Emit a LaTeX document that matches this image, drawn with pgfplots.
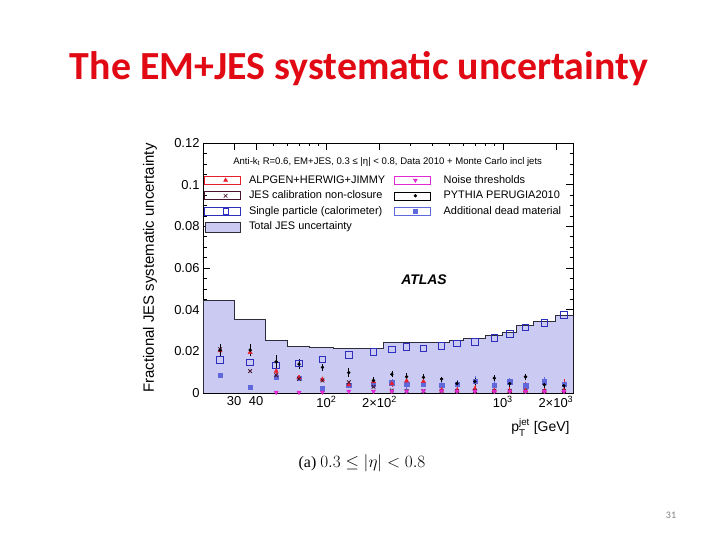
\documentclass[border=0pt]{standalone}
\usepackage{fontspec}
\setmainfont{Liberation Sans}
\newfontfamily\titlefont{Carlito}
\newfontfamily\capfont{Liberation Serif}
\usepackage{amsmath}
\usepackage{pgfplots}
\pgfplotsset{compat=1.18}
\definecolor{titlered}{RGB}{225,10,20}
\definecolor{jesfill}{RGB}{202,202,242}
\definecolor{jesline}{RGB}{45,45,60}
\definecolor{cSingle}{RGB}{45,45,190}
\definecolor{cDead}{RGB}{95,105,220}
\definecolor{cAlp}{RGB}{230,30,45}
\definecolor{cNoise}{RGB}{225,40,210}
\definecolor{cClos}{RGB}{70,20,45}

% legend image: one mark at 21bp inside a fixed 36bp wide cell
\pgfplotsset{
  mklegend/.style={legend image code/.code={%
    \path (0bp,-4bp) rectangle (36bp,4bp);
    \draw[mark repeat=2,mark phase=2,##1] plot coordinates {(0bp,0bp) (21bp,0bp) (36bp,0bp)};}},
}

\begin{document}
\begin{tikzpicture}
\path[fill=white,use as bounding box] (0bp,0bp) rectangle (720bp,540bp);

\node[font=\titlefont\bfseries\fontsize{40}{44}\selectfont,text=titlered,anchor=base]
  at (359bp,460bp) {The EM+JES systematic uncertainty};

\begin{axis}[
    at={(203bp,147bp)}, anchor=south west,
    width=370bp, height=250bp, scale only axis,
    xmode=log, xmin=20, xmax=2500,
    ymin=0, ymax=0.12,
    xtick={30,40,100,200,1000,2000},
    xticklabels={30,40,10\textsuperscript{2},2×10\textsuperscript{2},10\textsuperscript{3},2×10\textsuperscript{3}},
    minor xtick={20,50,60,70,80,90,300,400,500,600,700,800,900},
    ytick={0,0.02,0.04,0.06,0.08,0.1,0.12},
    yticklabels={0,0.02,0.04,0.06,0.08,0.1,0.12},
    minor ytick={0.005,0.01,0.015,0.025,0.03,0.035,0.045,0.05,0.055,0.065,0.07,0.075,0.085,0.09,0.095,0.105,0.11,0.115},
    scaled y ticks=false,
    tick align=inside,
    major tick length=7bp, minor tick length=3.5bp,
    tick style={black, line width=0.5pt},
    axis line style={black, line width=0.6pt},
    tick label style={font=\fontsize{13}{15}\selectfont},
    ylabel={Fractional JES systematic uncertainty},
    ylabel style={font=\fontsize{15}{17}\selectfont, at={(axis description cs:-0.143,0.5)}, anchor=center},
    xlabel={p$^{\text{jet}}_{\text{T}}$ [GeV]},
    xlabel style={font=\fontsize{14}{16}\selectfont, at={(axis description cs:1,-0.136)}, anchor=east},
    legend cell align=left,
    legend style={at={(axis description cs:0.0027,0.876)}, anchor=north west,
        draw=none, fill=none, inner sep=0pt,
        font=\fontsize{11}{13}\selectfont,
        nodes={inner sep=1bp, text height=8bp, text depth=2bp},
        row sep=3.6bp,
        /tikz/column 1/.style={column sep=7bp}},
]

% total JES uncertainty (step histogram)
\addplot[const plot, fill=jesfill, draw=jesline, line width=1pt, forget plot] coordinates {
  (20,0.0446) (30,0.0355) (45,0.0254) (60,0.0222) (80,0.0219) (110,0.0214)
  (210,0.0241) (500,0.0251) (600,0.0261) (800,0.0277) (1000,0.0290)
  (1200,0.0326) (1500,0.0342) (2000,0.0374) (2500,0.0374)
} \closedcycle;

% single particle (calorimeter)
\addplot[only marks, mark=square, mark size=3.3bp, cSingle, line width=0.9pt, forget plot] coordinates {
  (25,0.0158) (37,0.0146) (52,0.0133) (70,0.0142) (95,0.0162) (134,0.0182)
  (185,0.0197) (235,0.0210) (285,0.0222) (355,0.0214) (450,0.0227) (550,0.0238)
  (695,0.0246) (895,0.0265) (1095,0.0282) (1345,0.0315) (1720,0.0335) (2220,0.0374)
};

% additional dead material
\addplot[only marks, mark=square*, mark size=2.2bp, cDead, forget plot,
  error bars/.cd, y dir=both, y explicit, error bar style={cDead, line width=0.6pt}, error mark=none] coordinates {
  (25,0.0086) +- (0,0) (37,0.0027) +- (0,0) (52,0.0075) +- (0,0) (70,0.0070) +- (0,0)
  (95,0.0020) +- (0,0) (134,0.0038) +- (0,0) (185,0.0043) +- (0,0.0010)
  (235,0.0050) +- (0,0.0015) (285,0.0042) +- (0,0.0035) (355,0.0043) +- (0,0.0015)
  (450,0.0038) +- (0,0.0015) (550,0.0042) +- (0,0.0018) (695,0.0058) +- (0,0.0022)
  (895,0.0038) +- (0,0.0020) (1095,0.0054) +- (0,0.0020) (1345,0.0035) +- (0,0.0020)
  (1720,0.0054) +- (0,0.0025) (2220,0.0043) +- (0,0.0022)
};

% ALPGEN+HERWIG+JIMMY
\addplot[only marks, mark=triangle*, mark size=2.4bp, cAlp, forget plot,
  error bars/.cd, y dir=both, y explicit, error bar style={cAlp, line width=0.6pt}, error mark=none] coordinates {
  (25,0.0203) +- (0,0.0015) (37,0.0195) +- (0,0.0015) (52,0.0105) +- (0,0.0015)
  (70,0.0075) +- (0,0.0012) (95,0.0066) +- (0,0.0012) (134,0.0040) +- (0,0.0012)
  (185,0.0054) +- (0,0.0012) (235,0.0045) +- (0,0.0015) (285,0.0058) +- (0,0.0015)
  (355,0.0055) +- (0,0.0015) (450,0.0015) +- (0,0.0025) (550,0.0012) +- (0,0.0025)
  (695,0.0020) +- (0,0.0030) (895,0.0012) +- (0,0.0035) (1095,0.0010) +- (0,0.0058)
  (1345,0.0012) +- (0,0.0040) (1720,0.0010) +- (0,0.0050) (2220,0.0012) +- (0,0.0055)
};

% JES calibration non-closure
\addplot[only marks, mark=x, mark size=2.6bp, cClos, line width=0.8pt, forget plot] coordinates {
  (25,0.0210) (37,0.0105) (52,0.0085) (70,0.0068) (95,0.0060) (134,0.0052)
  (185,0.0030) (235,0.0012) (285,0.0010) (355,0.0010) (450,0.0010) (550,0.0010)
  (695,0.0010) (895,0.0010) (1095,0.0010) (1345,0.0010) (1720,0.0010) (2220,0.0010)
};

% noise thresholds
\addplot[only marks, mark=triangle*, mark size=2.4bp, mark options={rotate=180}, cNoise, forget plot] coordinates {
  (52,0.0003) (70,0.0003) (95,0.0004) (134,0.0008) (185,0.0008) (235,0.0008)
  (285,0.0008) (355,0.0010) (450,0.0010) (550,0.0008) (695,0.0008) (895,0.0008)
  (1095,0.0008) (1345,0.0008) (1720,0.0008) (2220,0.0008)
};

% PYTHIA PERUGIA2010
\addplot[only marks, mark=*, mark size=1.5bp, black, forget plot,
  error bars/.cd, y dir=both, y explicit, error bar style={black, line width=0.6pt}, error mark=none] coordinates {
  (25,0.0206) +- (0,0.0030) (37,0.0206) +- (0,0.0028) (52,0.0150) +- (0,0.0030)
  (70,0.0139) +- (0,0.0022) (95,0.0123) +- (0,0.0018) (134,0.0098) +- (0,0.0020)
  (185,0.0060) +- (0,0.0015) (235,0.0090) +- (0,0.0015) (285,0.0078) +- (0,0.0018)
  (355,0.0075) +- (0,0.0015) (450,0.0067) +- (0,0.0012) (550,0.0045) +- (0,0.0012)
  (695,0.0055) +- (0,0.0015) (895,0.0071) +- (0,0.0015) (1095,0.0045) +- (0,0.0018)
  (1345,0.0078) +- (0,0.0015) (1720,0.0040) +- (0,0.0018) (2220,0.0035) +- (0,0.0020)
};

% left legend column
\addlegendimage{only marks, mark=triangle*, mark size=2.3bp, cAlp, mklegend}
\addlegendentry{ALPGEN+HERWIG+JIMMY}
\addlegendimage{only marks, mark=x, mark size=2.6bp, cClos, line width=0.6pt, mklegend}
\addlegendentry{JES calibration non-closure}
\addlegendimage{only marks, mark=square, mark size=2.6bp, cSingle, line width=0.8pt, mklegend}
\addlegendentry{Single particle (calorimeter)}
\addlegendimage{legend image code/.code={\draw[fill=jesfill, draw=jesline, line width=0.8pt] (1bp,-5bp) rectangle (36bp,5bp);}}
\addlegendentry{Total JES uncertainty}

\node[font=\fontsize{9.6}{11}\selectfont] at (rel axis cs:0.499,0.924)
  {Anti-k\textsubscript{t} R=0.6, EM+JES, 0.3 ≤ |η| < 0.8, Data 2010 + Monte Carlo incl jets};
\end{axis}

% right legend column, on an invisible copy of the same axis
\begin{axis}[
    at={(203bp,147bp)}, anchor=south west,
    width=370bp, height=250bp, scale only axis,
    xmin=20, xmax=2500, ymin=0, ymax=0.12,
    hide axis,
    legend cell align=left,
    legend style={at={(axis description cs:0.5162,0.876)}, anchor=north west,
        draw=none, fill=none, inner sep=0pt,
        font=\fontsize{11}{13}\selectfont,
        nodes={inner sep=1bp, text height=8bp, text depth=2bp},
        row sep=3.6bp,
        /tikz/column 1/.style={column sep=12bp}},
]
\addplot[draw=none, forget plot] coordinates {(100,0.05)};
\addlegendimage{only marks, mark=triangle*, mark size=2.3bp, mark options={rotate=180}, cNoise, mklegend}
\addlegendentry{Noise thresholds}
\addlegendimage{only marks, mark=*, mark size=1.5bp, black, mklegend}
\addlegendentry{PYTHIA PERUGIA2010}
\addlegendimage{only marks, mark=square*, mark size=2bp, cDead, mklegend}
\addlegendentry{Additional dead material}
\end{axis}

\node[font=\fontsize{14}{16}\selectfont\bfseries\itshape] at (424bp,260bp) {ATLAS};

\node[font=\capfont\fontsize{16}{18}\selectfont] at (362bp,77bp) {(a) $0.3 \le |\eta| < 0.8$};

\node[font=\titlefont\fontsize{10}{12}\selectfont, text=gray] at (671bp,25bp) {31};
\end{tikzpicture}
\end{document}
